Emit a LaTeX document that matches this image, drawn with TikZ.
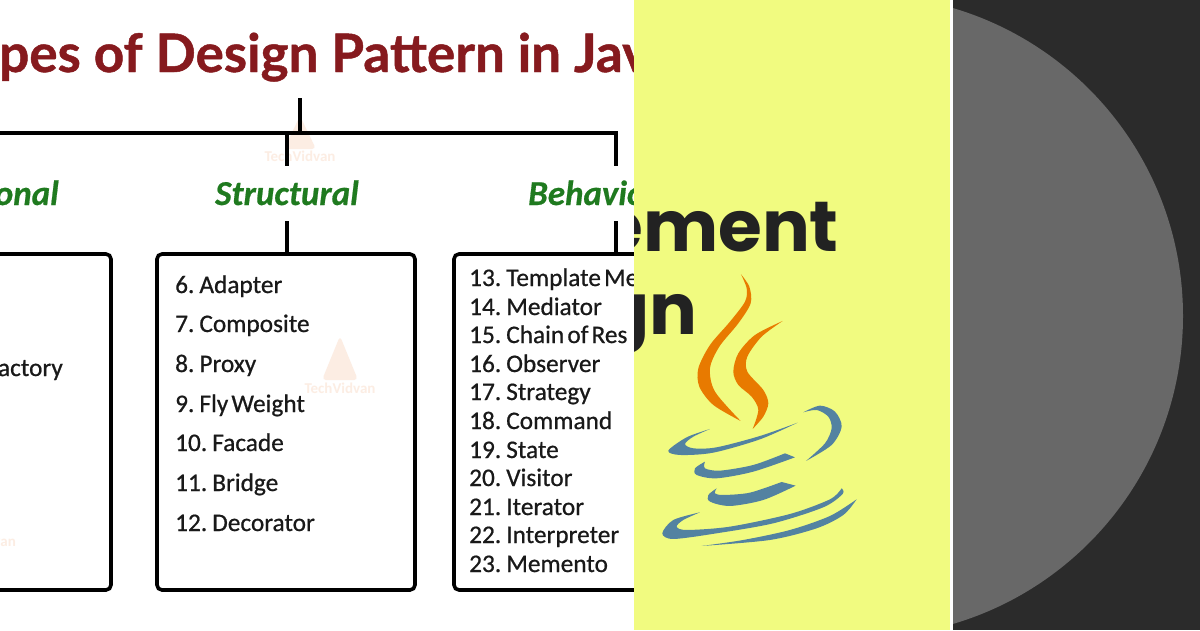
\documentclass[tikz,border=0pt]{standalone}
\usepackage{fontspec}
\setmainfont{Carlito}
\newfontfamily\bigf{Poppins}
\newfontfamily\titlef[FakeBold=0.9]{Lato Bold}
\newfontfamily\itemf[FakeBold=0.7,WordSpace=0.55]{Carlito}
\newfontfamily\headf[FakeBold=0.5]{Carlito Bold Italic}
\definecolor{panelY}{HTML}{F1FB80}
\definecolor{darkP}{HTML}{2B2B2B}
\definecolor{circP}{HTML}{686868}
\definecolor{inkT}{HTML}{222222}
\definecolor{titleR}{HTML}{861A1E}
\definecolor{headG}{HTML}{1F7A1F}
\definecolor{flame}{HTML}{E87A00}
\definecolor{cup}{HTML}{5382A1}
\definecolor{wm}{HTML}{FCEDE3}
\tikzset{
  wire/.style={line width=3.6pt,black},
  listbox/.style={draw=black,line width=3.6pt,rounded corners=5pt},
  head/.style={font=\fontsize{35}{35}\selectfont\headf,text=headG,inner sep=0pt},
  item/.style={font=\fontsize{25.3}{26}\selectfont\itemf,text=black!90,anchor=base west,inner sep=0pt},
  titlet/.style={font=\fontsize{53}{53}\selectfont\titlef,text=titleR,anchor=base west,inner sep=0pt},
  bigt/.style={font=\fontsize{71}{71}\selectfont\bigf\bfseries,text=inkT,anchor=base east,inner sep=0pt},
  wmark/.style={font=\fontsize{15}{15}\selectfont\bfseries,text=wm,inner sep=0pt},
}
\begin{document}
\begin{tikzpicture}[x=1pt,y=-1pt]
\useasboundingbox (0,0) rectangle (1200,630);
\fill[white] (0,0) rectangle (634,630);
\begin{scope}
\clip (0,0) rectangle (634,630);
\node[titlet] (title) at (-1,72) {pes of Design Pattern in Jav};
% watermarks
\fill[wm,rounded corners=4pt] (300,116) -- (316,149) -- (284,149) -- cycle;
\node[wmark] (wmA) at (300,156) {TechVidvan};
\fill[wm,rounded corners=4pt] (340,336) -- (358,380) -- (322,380) -- cycle;
\node[wmark] (wmB) at (340,388) {TechVidvan};
\node[wmark,anchor=east] (wmC) at (16,543) {van};
% connectors
\coordinate (root) at (300,98);
\coordinate (jn) at (300,133);
\coordinate (busL) at (0,133);
\coordinate (busS) at (287,133);
\coordinate (busB) at (616,133);
\coordinate (busSd) at (287,166);
\coordinate (busBd) at (616,166);
\draw[wire] (root) -- (jn);
\draw[wire,line cap=rect] (busL) -- (busB);
\draw[wire] (busS) -- (busSd);
\draw[wire] (busB) -- (busBd);
% boxes
\draw[listbox] (-40,254) rectangle (111,590);
\draw[listbox] (157,254) rectangle (415,590);
\draw[listbox] (454,254) rectangle (700,590);
\coordinate (sUp) at (287,221);
\coordinate (sDn) at (287,254);
\coordinate (bUp) at (616,221);
\coordinate (bDn) at (616,254);
\draw[wire] (sUp) -- (sDn);
\draw[wire] (bUp) -- (bDn);
% heads
\node[head,anchor=base east] (hC) at (59,205) {onal};
\node[head,anchor=base] (hS) at (287,205) {Structural};
\node[head,anchor=base west] (hB) at (528,205) {Behavio};
% lists
\node[item,anchor=base east] (a5) at (63,376) {actory};
\node[item] (s6) at (175,293) {6. Adapter};
\node[item] (s7) at (175,332) {7. Composite};
\node[item] (s8) at (175,372) {8. Proxy};
\node[item] (s9) at (175,412) {9. Fly Weight};
\node[item] (s10) at (175,451) {10. Facade};
\node[item] (s11) at (175,491) {11. Bridge};
\node[item] (s12) at (175,531) {12. Decorator};
\node[item] (b13) at (469,286) {13. Template Me};
\node[item] (b14) at (469,315) {14. Mediator};
\node[item] (b15) at (469,343) {15. Chain of Res};
\node[item] (b16) at (469,372) {16. Observer};
\node[item] (b17) at (469,400) {17. Strategy};
\node[item] (b18) at (469,429) {18. Command};
\node[item] (b19) at (469,458) {19. State};
\node[item] (b20) at (469,486) {20. Visitor};
\node[item] (b21) at (469,515) {21. Iterator};
\node[item] (b22) at (469,543) {22. Interpreter};
\node[item] (b23) at (469,572) {23. Memento};
\end{scope}
% yellow panel
\fill[panelY] (634,0) rectangle (950,630);
\begin{scope}
\clip (634,0) rectangle (950,630);
\node[bigt] (big1) at (839,251) {ement};
\node[bigt] (big2) at (698,334) {gn};
\end{scope}
% logo, in crop coordinates
\begin{scope}[shift={(630,180)},x=0.3333pt,y=-0.3333pt]
\fill[flame] plot[smooth] coordinates {(333,283)(358,320)(362,370)(325,430)(268,500)(240,565)(255,635)(332,723)}
  -- plot[smooth] coordinates {(332,723)(250,675)(208,620)(205,565)(240,495)(300,425)(345,365)(350,325)(333,283)} -- cycle;
\fill[flame] plot[smooth] coordinates {(458,423)(395,470)(352,530)(352,575)(400,630)(415,670)(400,710)(368,747)}
  -- plot[smooth] coordinates {(368,747)(385,690)(365,650)(325,615)(310,575)(325,520)(375,465)(458,423)} -- cycle;
\fill[cup] plot[smooth] coordinates {(240,747)(170,772)(115,812)(150,825)(250,818)(390,778)(503,728)}
  -- plot[smooth] coordinates {(503,728)(390,768)(260,802)(190,805)(165,792)(190,770)(240,747)} -- cycle;
\fill[cup] plot[smooth] coordinates {(520,697)(570,677)(615,695)(635,740)(605,795)(528,843)}
  -- plot[smooth] coordinates {(528,843)(585,790)(605,745)(595,710)(560,690)(520,697)} -- cycle;
\fill[cup] plot[smooth] coordinates {(225,845)(195,865)(200,885)(260,895)(370,875)(495,832)}
  -- (465,820) -- plot[smooth] coordinates {(465,820)(370,855)(270,872)(225,865)(225,845)} -- cycle;
\fill[cup] plot[smooth] coordinates {(260,925)(235,945)(240,965)(300,978)(400,960)(497,917)}
  -- (455,906) -- plot[smooth] coordinates {(455,906)(360,938)(280,945)(255,940)(260,925)} -- cycle;
\fill[cup] plot[smooth] coordinates {(635,925)(638,942)(580,982)(430,1030)(260,1060)(130,1077)(97,1060)(130,1020)(210,997)}
  -- plot[smooth] coordinates {(210,997)(160,1020)(140,1040)(170,1050)(300,1040)(480,1002)(600,958)(635,925)} -- cycle;
\fill[cup] plot[smooth] coordinates {(680,958)(640,1005)(560,1045)(420,1080)(215,1098)}
  -- plot[smooth] coordinates {(215,1098)(340,1080)(480,1050)(600,1008)(680,958)} -- cycle;
\end{scope}
% right panel
\fill[white] (950,0) rectangle (953,630);
\fill[darkP] (953,0) rectangle (1200,630);
\begin{scope}
\clip (953,0) rectangle (1200,630);
\fill[circP] (862,316) circle[radius=321];
\end{scope}
\end{tikzpicture}
\end{document}
